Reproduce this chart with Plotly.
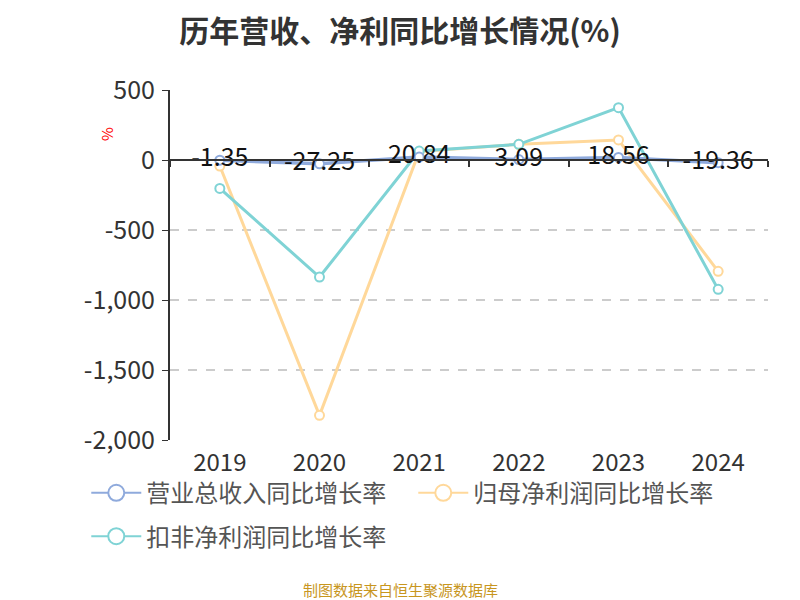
import plotly.graph_objects as go

years = ["2019", "2020", "2021", "2022", "2023", "2024"]
revenue_growth = [-1.35, -27.25, 20.84, 3.09, 18.56, -19.36]
parent_profit_growth = [-43, -1824, 60, 112, 143, -795]
deducted_profit_growth = [-203, -836, 64, 112, 374, -924]

names = ["营业总收入同比增长率", "归母净利润同比增长率", "扣非净利润同比增长率"]
colors = ["#8FAADC", "#FFD89A", "#7FD3D5"]
font_family = "Noto Sans CJK SC, Noto Sans, sans-serif"

fig = go.Figure()
series = [revenue_growth, parent_profit_growth, deducted_profit_growth]
# draw profit lines first, revenue (with labels) on top
for i in [1, 2, 0]:
    name, vals, c = names[i], series[i], colors[i]
    fig.add_trace(go.Scatter(
        x=years, y=vals, name=name, showlegend=False,
        mode="lines+markers+text" if i == 0 else "lines+markers",
        text=[f"{v:.2f}" for v in vals] if i == 0 else None,
        textposition="middle center",
        textfont=dict(size=25, color="#111", family=font_family),
        line=dict(color=c, width=3.5 if i == 0 else 3),
        marker=dict(symbol="circle", size=9, color="white", line=dict(color=c, width=2)),
        cliponaxis=False,
    ))
# legend entries (legend-only proxies with larger symbols)
for i in range(3):
    fig.add_trace(go.Scatter(
        x=[None], y=[None], name=names[i], mode="lines+markers",
        line=dict(color=colors[i], width=2),
        marker=dict(symbol="circle", size=16, color="white", line=dict(color=colors[i], width=2)),
        legend="legend" if i < 2 else "legend2", hoverinfo="skip",
    ))

# dummy trace on xaxis2 to activate the zero-line axis
fig.add_trace(go.Scatter(x=years, y=[None] * len(years), xaxis="x2", showlegend=False,
                         hoverinfo="skip"))

legend_common = dict(orientation="h", x=-0.14, xanchor="left", yanchor="middle",
                     font=dict(size=24, color="#555"), entrywidth=262, entrywidthmode="pixels",
                     itemwidth=50, traceorder="normal", bgcolor="rgba(0,0,0,0)")

fig.update_layout(
    width=792, height=592,
    plot_bgcolor="white", paper_bgcolor="white",
    margin=dict(l=162, r=32, t=82, b=160),
    font=dict(family=font_family, color="#333"),
    title=dict(text="<b>历年营收、净利同比增长情况(%)</b>", x=0.495, xanchor="center", xref="container",
               y=0.96, yanchor="middle", yref="container", font=dict(size=30, color="#333")),
    showlegend=True,
    legend=dict(y=-0.152, **legend_common),
    legend2=dict(y=-0.276, **legend_common),
    xaxis=dict(type="category", range=[-0.5, 5.5], showline=False, ticks="", showgrid=False,
               tickfont=dict(size=24, color="#333"), ticklabelstandoff=6, zeroline=False),
    xaxis2=dict(type="category", range=[-0.5, 5.5], overlaying="x", anchor="free", position=0.8,
                showline=True, linecolor="#333", linewidth=2, ticks="outside",
                tickson="boundaries", ticklen=6, tickcolor="#333", tickwidth=1.5,
                showticklabels=False, showgrid=False, side="bottom"),
    yaxis=dict(range=[-2000, 500], tickvals=[500, 0, -500, -1000, -1500, -2000],
               ticktext=["500", "0", "-500", "-1,000", "-1,500", "-2,000"],
               showline=True, linecolor="#333", linewidth=2, ticks="outside", ticklen=6,
               tickcolor="#333", tickfont=dict(size=25, color="#333"), ticklabelstandoff=2,
               showgrid=True, gridcolor="#cccccc", griddash="dash", gridwidth=1.5,
               zeroline=False),
)

fig.add_annotation(text="%", xref="paper", yref="paper", x=-0.105, y=0.875,
                   xanchor="center", yanchor="middle",
                   showarrow=False, textangle=-90, font=dict(size=15, color="red"))
fig.add_annotation(text="制图数据来自恒生聚源数据库", xref="paper", yref="paper",
                   x=0.385, y=-0.426, xanchor="center", yanchor="middle", showarrow=False,
                   font=dict(size=15, color="#C8961E"))

fig.write_html("out.html")
